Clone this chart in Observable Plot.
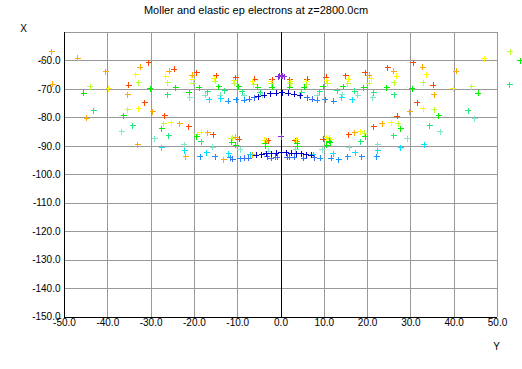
<!DOCTYPE html>
<html><head><meta charset="utf-8">
<script src="https://cdn.jsdelivr.net/npm/d3@7"></script>
<script src="https://cdn.jsdelivr.net/npm/@observablehq/plot@0.6"></script>
<style>html,body{margin:0;padding:0;background:#fff;} svg{display:block;}</style>
</head><body><div id="chart"></div>
<script>
const title = "Moller and elastic ep electrons at z=2800.0cm";
const xLabel = "Y";
const yLabel = "X";
const xTicks = [-50, -40, -30, -20, -10, 0, 10, 20, 30, 40, 50];
const yTicks = [-60, -70, -80, -90, -100, -110, -120, -130, -140, -150];

// points as [Y, X]
const red = [[-30.5,-60.7],[30.6,-60.7],[-35.2,-68.6],[35.2,-68.6],[-24.6,-62.9],[24.6,-62.4],[-19.4,-64.1],[19.5,-64.2],[-14.9,-65.2],[14.9,-65.2],[-10.5,-65.9],[10.5,-65.8],[-6.1,-66.4],[6.1,-66.4],[-2.0,-66.6],[2.0,-66.6],
[-31.5,-74.7],[31.5,-74.7],[-26.9,-79.3],[26.9,-79.4],[-21.3,-83.1],[21.4,-83.2],[-15.6,-86.0],[15.6,-86.0],[-9.6,-87.6],[9.7,-87.6],[-3.0,-88.0],[3.3,-88.0]];
const orange = [[-53.0,-56.7],[-55.3,-59.9],[-46.9,-59.1],[-40.5,-63.8],[-52.7,-68.2],[40.5,-63.7],[-32.5,-62.3],[32.7,-62.3],[-35.4,-71.8],[35.4,-71.8],[-25.8,-63.7],[26.0,-63.7],[-20.5,-65.0],[20.4,-65.1],
[-44.9,-80.2],[-29.6,-77.9],[29.7,-77.9],[-23.4,-82.1],[23.4,-82.1],[-33.1,-89.5],[-16.9,-85.3],[17.0,-85.3],[-22.0,-93.6],[-13.2,-94.7],[-10.4,-86.9],[-6.6,-92.9],[-3.3,-88.2],[3.8,-88.2]];
const yellow = [[-39.8,-69.8],[39.8,-69.8],[46.9,-59.2],[-33.6,-64.9],[33.6,-64.9],[-26.6,-65.6],[26.7,-65.4],[-20.6,-66.4],[20.8,-66.3],[-15.4,-66.2],[15.5,-66.4],[-10.9,-67.0],[10.6,-67.0],[-6.5,-67.3],[5.8,-67.3],[-2.2,-67.3],[2.1,-67.3],
[-32.9,-76.8],[32.9,-76.8],[-25.4,-81.7],[25.5,-81.7],[-18.4,-85.0],[18.3,-84.9],[-11.5,-87.4],[10.6,-87.0],[-3.9,-87.9],[3.5,-87.7],[11.5,-87.7]];
const yellowGreen = [[-44.0,-69.1],[44.0,-69.1],[53.0,-56.7],[-32.9,-67.7],[32.9,-67.7],[-26.1,-67.7],[26.2,-67.7],[-20.3,-67.8],[20.4,-67.8],[-15.2,-67.1],[15.4,-68.0],[-10.8,-67.8],[10.8,-67.8],[-6.3,-68.3],[6.0,-68.3],[-2.2,-68.0],[2.1,-68.0],
[-35.4,-77.2],[35.4,-77.2],[-27.1,-82.1],[27.1,-82.1],[-19.3,-85.9],[19.3,-85.4],[-11.2,-87.2],[11.2,-87.2]];
const green = [[-45.6,-71.4],[45.6,-71.4],[55.2,-59.9],[-30.2,-69.8],[30.3,-69.8],[-24.3,-69.4],[24.4,-69.4],[-18.9,-69.4],[19.1,-69.4],[-21.2,-71.2],[-14.4,-69.0],[14.4,-69.0],[-9.8,-69.1],[9.8,-69.1],[-5.4,-69.2],[5.4,-69.2],[-2.0,-69.2],[2.0,-69.2],
[-36.3,-79.3],[36.4,-79.3],[-27.5,-83.8],[27.6,-83.8],[-19.5,-86.6],[19.5,-86.7],[-11.4,-88.6],[-10.5,-89.7],[11.1,-88.2],[11.4,-88.8],[10.6,-89.7],[-3.6,-88.9],[-3.5,-90.0],[3.7,-88.9],[3.9,-90.1]];
const springGreen = [[52.8,-68.4],[-26.1,-71.8],[26.2,-71.8],[21.4,-71.2],[-16.9,-70.8],[17.0,-70.7],[-13.0,-70.4],[13.0,-70.4],[-9.0,-70.8],[9.0,-70.8],[-4.8,-71.0],[4.8,-71.0],
[-43.2,-77.5],[43.3,-77.5],[-34.2,-82.8],[34.3,-82.8],[-25.9,-86.3],[26.0,-86.3],[-18.4,-88.4],[18.4,-88.4]];
const aquamarine = [[-21.1,-73.0],[21.2,-73.0],[-17.5,-72.1],[17.7,-72.1],[-14.0,-72.0],[14.1,-71.9],[-8.5,-72.2],[8.4,-72.2],[-4.3,-72.1],[4.3,-72.1],
[-36.8,-84.8],[36.8,-84.9],[44.8,-80.3],[-29.2,-87.4],[29.2,-87.4],[-22.3,-89.5],[22.3,-89.5],[-15.8,-90.4],[15.8,-90.5],[-9.4,-91.2],[9.5,-91.2],[-2.9,-91.7],[3.4,-91.2]];
const cyan = [[-16.6,-73.7],[16.5,-73.7],[-13.9,-73.2],[14.0,-73.0],
[-27.5,-90.5],[27.6,-90.5],[33.1,-89.5],[-22.2,-91.5],[22.3,-91.6],[-17.2,-92.3],[17.2,-92.3],[-12.1,-92.6],[12.1,-92.6],[-7.1,-92.9],[7.4,-92.9]];
const dodgerBlue = [[-12.2,-74.1],[12.2,-74.1],[-10.3,-73.7],[10.2,-73.7],[-8.5,-73.9],[8.4,-73.9],
[-18.6,-93.6],[18.6,-93.7],[-15.2,-93.6],[15.4,-93.7],[22.1,-93.7],[-11.7,-94.0],[11.6,-94.2],[13.3,-94.7],[9.1,-94.2],[-9.4,-94.4]];
const royalBlue = [[-7.3,-73.5],[-6.2,-73.0],[6.1,-73.0],[7.2,-73.5],
[-11.2,-94.5],[-8.4,-94.2],[-7.5,-94.2],[-3.2,-93.6],[-2.2,-94.2],[-1.2,-93.8],[-0.9,-93.8],[1.4,-93.8],[1.9,-93.8],[3.1,-93.8],[5.2,-94.2],[7.7,-94.0]];
const navy = [[-5.2,-72.5],[-3.9,-72.0],[-2.5,-71.5],[-1.1,-71.3],[0.3,-71.2],[1.7,-71.3],[3.1,-71.7],[4.5,-72.2],
[-5.7,-93.1],[-4.5,-92.9],[-3.4,-92.7],[-2.2,-92.6],[-1.1,-92.4],[0.1,-92.3],[1.2,-92.3],[2.4,-92.4],[3.5,-92.6],[4.7,-92.7],[5.8,-92.9],[7.0,-93.2]];
const purple = [[-0.6,-65.6],[-0.3,-65.3],[0.1,-65.2],[0.4,-65.3],[0.8,-65.6],[0.1,-86.7]];

const series = [
  {pts: red, color: "#ff4500"},
  {pts: orange, color: "#ffaa00"},
  {pts: yellow, color: "#ffff00"},
  {pts: yellowGreen, color: "#bbff33"},
  {pts: green, color: "#00f000"},
  {pts: springGreen, color: "#20e87a"},
  {pts: aquamarine, color: "#80e8c8"},
  {pts: cyan, color: "#00e5ff"},
  {pts: dodgerBlue, color: "#1e90ff"},
  {pts: royalBlue, color: "#3a6cf4"},
  {pts: navy, color: "#0000c8"},
  {pts: purple, color: "#8a2be2"}
];
const points = series.flatMap(s => s.pts.map(([Y, X]) => ({Y, X, c: s.color})));

const plusSymbol = {draw(ctx) { const a = 3; ctx.moveTo(-a, 0); ctx.lineTo(a, 0); ctx.moveTo(0, -a); ctx.lineTo(0, a); }};
const fmt = d => d.toFixed(1);

const chart = Plot.plot({
  width: 522, height: 369,
  marginLeft: 64, marginRight: 25, marginTop: 32, marginBottom: 52.5,
  style: {fontFamily: "'Liberation Sans', Arial, sans-serif", fontSize: "10px", color: "#000", background: "#fff"},
  x: {domain: [-50, 50], ticks: xTicks, tickFormat: fmt, tickSize: 0, tickPadding: 2, label: null},
  y: {domain: [-150, -50], ticks: yTicks, tickFormat: fmt, tickSize: 0, tickPadding: 4, label: null},
  color: {type: "identity"},
  marks: [
    Plot.ruleX(xTicks.filter(d => d !== 0 && d !== -50), {stroke: "#999", shapeRendering: "crispEdges"}),
    Plot.ruleY([-50, ...yTicks.filter(d => d !== -150)], {stroke: "#999", shapeRendering: "crispEdges"}),
    Plot.ruleX([-50, 0], {stroke: "#000", shapeRendering: "crispEdges"}),
    Plot.ruleY([-150], {stroke: "#000", shapeRendering: "crispEdges"}),
    Plot.dot(points, {x: "Y", y: "X", stroke: "c", fill: "none", symbol: plusSymbol, r: 3, strokeWidth: 1, shapeRendering: "crispEdges"}),
    Plot.text([title], {frameAnchor: "top", dx: -25, dy: -22, fontSize: 11, textAnchor: "middle", lineAnchor: "middle"}),
    Plot.text([yLabel], {frameAnchor: "top-left", dx: -41, dy: -4, fontSize: 10, textAnchor: "middle", lineAnchor: "middle"}),
    Plot.text([xLabel], {frameAnchor: "bottom-right", dx: -1, dy: 30, fontSize: 10, textAnchor: "middle", lineAnchor: "middle"})
  ]
});
document.getElementById("chart").appendChild(chart);
</script>
</body></html>
